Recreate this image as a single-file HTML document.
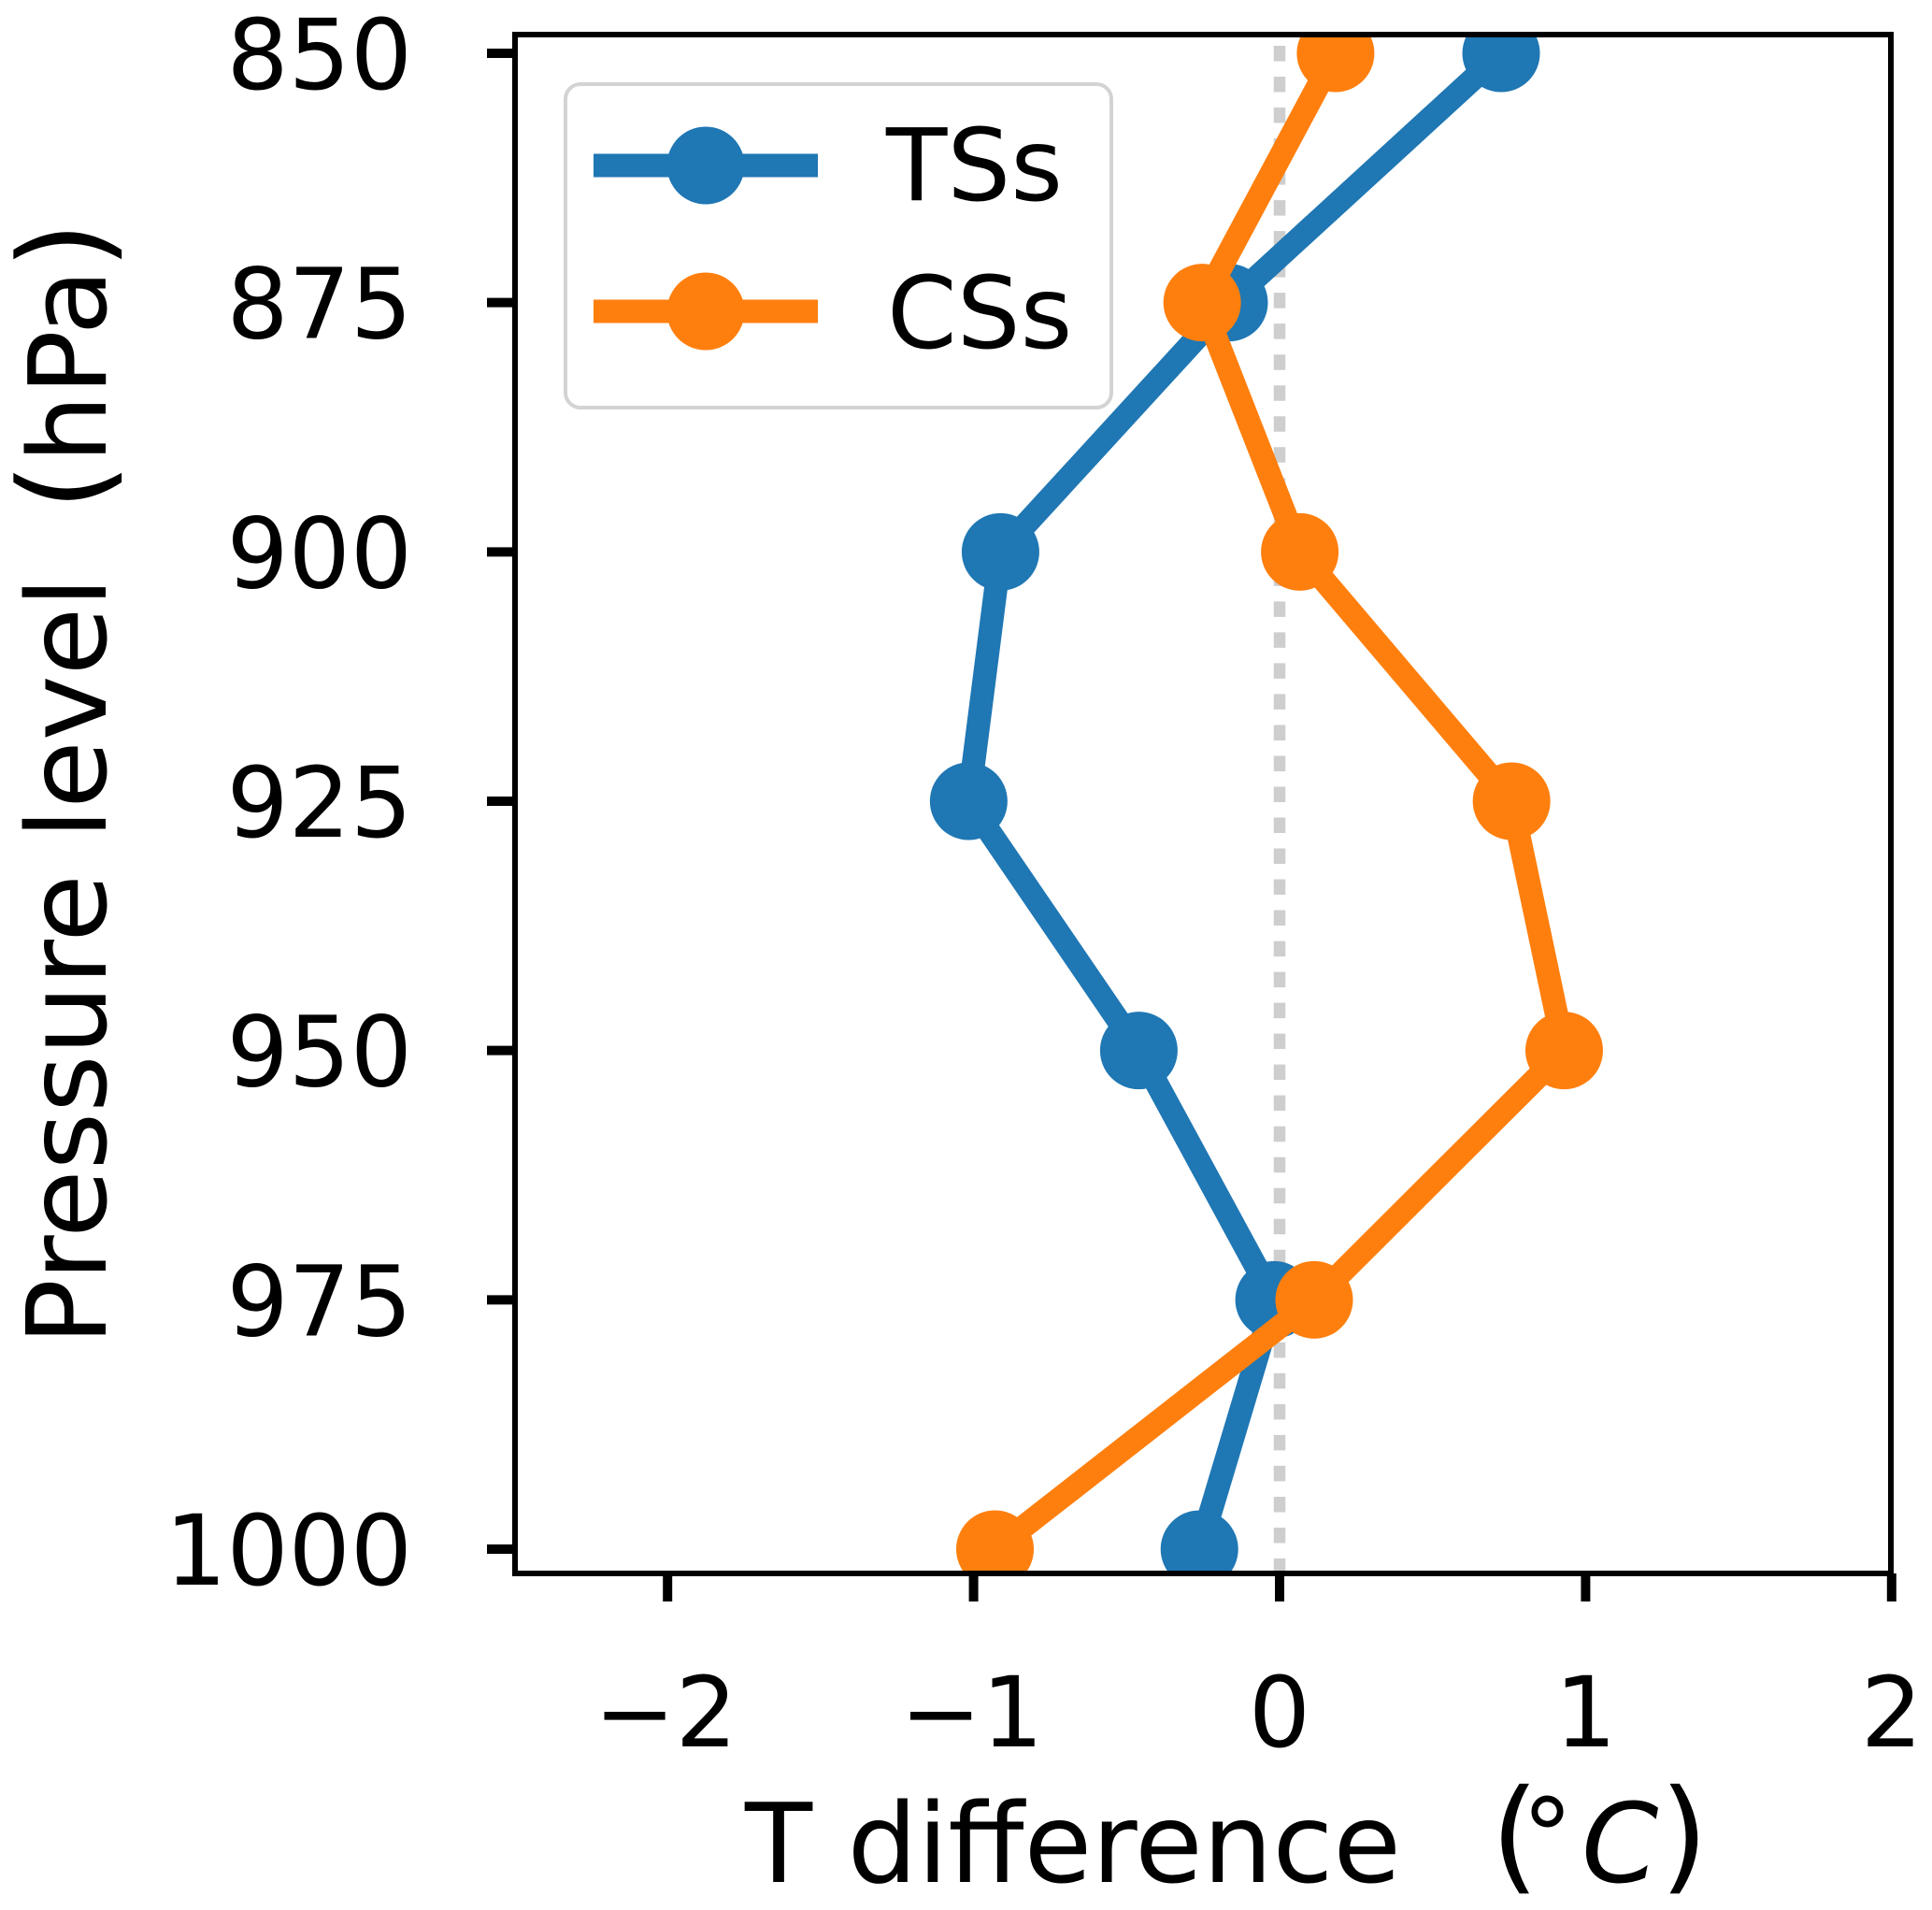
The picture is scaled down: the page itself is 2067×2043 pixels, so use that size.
<!DOCTYPE html>
<html lang="en">
<head>
<meta charset="utf-8">
<title>T difference by pressure level</title>
<style>
html,body{margin:0;padding:0;background:#fff;width:2067px;height:2043px;overflow:hidden}
svg{display:block}
text{font-family:"DejaVu Sans","Liberation Sans",sans-serif;fill:#000}
</style>
</head>
<body>
<svg id="chart" xmlns="http://www.w3.org/2000/svg" width="2067" height="2043" viewBox="0 0 2067 2043">
  <rect x="0" y="0" width="2067" height="2043" fill="#fff"/>
  <defs><clipPath id="plot-clip"><rect x="551" y="37" width="1472" height="1646"/></clipPath></defs>
  <g id="plot" clip-path="url(#plot-clip)"></g>
  <g id="ticks"></g>
  <rect x="551" y="37" width="1472" height="1646" fill="none" stroke="#000" stroke-width="6"/>
  <g>
    <rect x="605" y="90" width="584" height="346" rx="16" ry="16" fill="#fff" stroke="#d3d3d3" stroke-width="4"/>
    <line x1="635" x2="875" y1="177" y2="177" stroke="#1f77b4" stroke-width="25"/>
    <circle cx="755" cy="177" r="41.5" fill="#1f77b4"/>
    <text x="948" y="214" font-size="107">TSs</text>
    <line x1="635" x2="875" y1="333" y2="333" stroke="#ff7f0e" stroke-width="25"/>
    <circle cx="755" cy="333" r="41.5" fill="#ff7f0e"/>
    <text x="949" y="372" font-size="107">CSs</text>
  </g>
  <g>
    <text x="797" y="2013" font-size="118">T difference</text>
    <text x="1595" y="2008" font-size="132">(</text>
    <text x="1628" y="2002" font-size="110">°</text>
    <text x="1692" y="2013" font-size="118" font-style="italic">C</text>
    <text x="1776" y="2008" font-size="132">)</text>
  </g>
  <g>
    <text transform="translate(113 1439) rotate(-90)" font-size="118">Pressure level</text>
    <text transform="translate(113 546) rotate(-90)" font-size="115"><tspan font-size="130">(</tspan>hPa<tspan font-size="130">)</tspan></text>
  </g>
</svg>
<script>
const pressureLevels = [850, 875, 900, 925, 950, 975, 1000];
const tssValues = [0.724, -0.165, -0.912, -1.016, -0.46, -0.018, -0.262];
const cssValues = [0.183, -0.253, 0.066, 0.758, 0.93, 0.113, -0.93];
const xTickValues = [-2, -1, 0, 1, 2];
const xTickLabels = ['\u22122', '\u22121', '0', '1', '2'];
const yTickLabels = ['850', '875', '900', '925', '950', '975', '1000'];
const zeroLineValue = 0;

const NS = 'http://www.w3.org/2000/svg';
const plot = document.getElementById('plot');
const ticks = document.getElementById('ticks');
const xScale = v => 1369 + v * 327.4;
const yScale = p => 57 + (p - 850) * (1600 / 150);
const make = (tag, parent, attrs) => {
  const el = document.createElementNS(NS, tag);
  Object.keys(attrs).forEach(k => el.setAttribute(k, attrs[k]));
  parent.appendChild(el);
  return el;
};

const zeroLine = make('line', plot, {
  x1: xScale(zeroLineValue), x2: xScale(zeroLineValue), y1: 49, y2: 1690,
  stroke: '#cecece', 'stroke-width': 12.5, 'stroke-dasharray': '16.5 16.52'
});



function drawSeries(values, color, key) {
  const pts = values.map((v, i) => xScale(v) + ',' + yScale(pressureLevels[i])).join(' ');
  const line = make('polyline', plot, {points: pts, fill: 'none', stroke: color, 'stroke-width': 25, 'stroke-linejoin': 'round'});
  
  
  values.forEach((v, i) => {
    const dot = make('circle', plot, {cx: xScale(v), cy: yScale(pressureLevels[i]), r: 41.5, fill: color});
    
    
  });
}
drawSeries(tssValues, '#1f77b4', 'tss');
drawSeries(cssValues, '#ff7f0e', 'css');

xTickValues.forEach((v, i) => {
  const t = make('line', ticks, {x1: xScale(v), x2: xScale(v), y1: 1683, y2: 1713, stroke: '#000', 'stroke-width': 10});
  
  
  const lab = make('text', ticks, {x: xScale(v) + (v < 0 ? -2 : 0), y: 1868, 'font-size': 104, 'text-anchor': 'middle'});
  lab.textContent = xTickLabels[i];
  
  
});
pressureLevels.forEach((p, i) => {
  const t = make('line', ticks, {x1: 521, x2: 551, y1: yScale(p), y2: yScale(p), stroke: '#000', 'stroke-width': 10});
  
  
  const lab = make('text', ticks, {x: 441, y: yScale(p) + 38, 'font-size': 104, 'text-anchor': 'end'});
  lab.textContent = yTickLabels[i];
  
  
});
</script>
</body>
</html>
